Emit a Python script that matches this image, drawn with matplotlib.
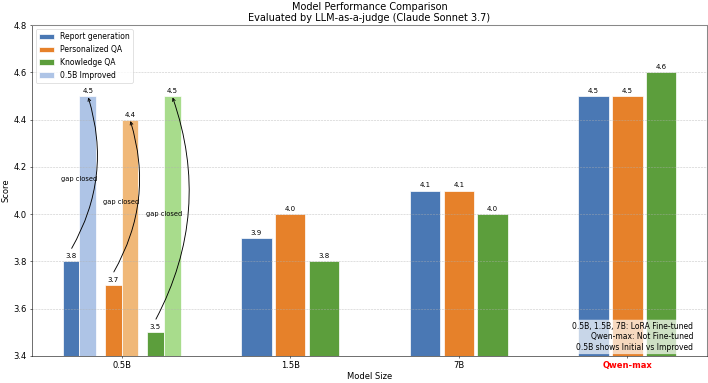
import matplotlib
matplotlib.use("Agg")
import matplotlib.pyplot as plt
import numpy as np

categories = ["0.5B", "1.5B", "7B", "Qwen-max"]
series_names = ["Report generation", "Personalized QA", "Knowledge QA"]
report = [3.8, 3.9, 4.1, 4.5]
personal = [3.7, 4.0, 4.1, 4.5]
knowledge = [3.5, 3.8, 4.0, 4.6]
improved_05b = [4.5, 4.4, 4.5]

colors = ["#4a78b4", "#e6812a", "#5c9e3c"]
light_colors = ["#aec4e6", "#f0b878", "#a8dc8c"]

fig, ax = plt.subplots(figsize=(14.16, 7.66), dpi=50)
fig.subplots_adjust(left=0.045, right=0.9985, top=0.934, bottom=0.071)

x = np.arange(len(categories))
series = [report, personal, knowledge]
w = 0.18
offsets = [-0.2, 0.0, 0.2]
VAL_FS = 10

for i, (vals, c) in enumerate(zip(series, colors)):
    xs = x[1:] + offsets[i]
    ax.bar(xs, vals[1:], w, color=c, edgecolor="white", linewidth=1,
           label=series_names[i])
    for xx, v in zip(xs, vals[1:]):
        ax.annotate(f"{v:.1f}", (xx, v), xytext=(0, 3), textcoords="offset points",
                    ha="center", va="bottom", fontsize=VAL_FS)

pair_off = [-0.25, 0.0, 0.25]
sw = 0.1
for i in range(3):
    xi = x[0] + pair_off[i] - 0.05
    xm = x[0] + pair_off[i] + 0.05
    v0 = series[i][0]
    v1 = improved_05b[i]
    ax.bar(xi, v0, sw, color=colors[i], edgecolor="white", linewidth=1)
    ax.bar(xm, v1, sw, color=light_colors[i], edgecolor="white", linewidth=1,
           label="0.5B Improved" if i == 0 else None)
    ax.annotate(f"{v0:.1f}", (xi, v0), xytext=(0, 3), textcoords="offset points",
                ha="center", va="bottom", fontsize=VAL_FS)
    ax.annotate(f"{v1:.1f}", (xm, v1), xytext=(0, 3), textcoords="offset points",
                ha="center", va="bottom", fontsize=VAL_FS)
    ax.annotate("", xy=(xm, v1), xytext=(xi, v0 + 0.05),
                arrowprops=dict(arrowstyle="->", color="black", lw=1.3,
                                connectionstyle="arc3,rad=0.22"))
    ax.text(x[0] + pair_off[i], (v0 + v1) / 2, "gap closed", ha="center",
            va="center", fontsize=9.5)

ax.set_ylim(3.4, 4.8)
ax.set_xticks(x)
ax.set_xticklabels(categories, fontsize=12)
ax.tick_params(axis="y", labelsize=12)
ticklbl = ax.get_xticklabels()[-1]
ticklbl.set_color("red")
ticklbl.set_fontweight("bold")
ax.set_ylabel("Score", fontsize=12)
ax.set_xlabel("Model Size", fontsize=12)
ax.set_title("Model Performance Comparison\nEvaluated by LLM-as-a-judge (Claude Sonnet 3.7)",
             fontsize=14)
ax.grid(axis="y", linestyle="--", alpha=0.7)
for s in ("top", "right"):
    ax.spines[s].set_color("#888888")
    ax.spines[s].set_linewidth(1.5)
ax.legend(loc="upper left", fontsize=11)
ax.text(0.98, 0.012, "0.5B, 1.5B, 7B: LoRA Fine-tuned\nQwen-max: Not Fine-tuned\n0.5B shows Initial vs Improved",
        transform=ax.transAxes, ha="right", va="bottom", fontsize=11,
        bbox=dict(boxstyle="round,pad=0.3", facecolor="white", alpha=0.7, edgecolor="none"))

fig.savefig("out.png", dpi=50)
